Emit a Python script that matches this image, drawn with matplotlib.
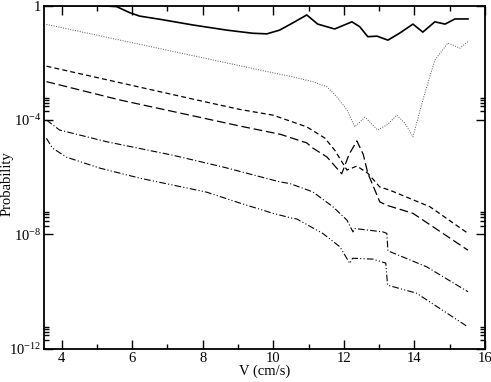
import numpy as np
import matplotlib.pyplot as plt
from matplotlib.ticker import FixedLocator, NullFormatter

plt.rcParams["font.family"] = ["Liberation Serif", "DejaVu Serif"]
plt.rcParams["mathtext.fontset"] = "custom"
plt.rcParams["mathtext.rm"] = "Liberation Serif"
plt.rcParams["mathtext.it"] = "Liberation Serif:italic"

# velocity (cm/s) and log10(probability)
v_solid = [3.6, 4.5, 5.0, 5.56, 5.93, 6.21, 6.78, 7.72, 8.68, 9.42, 9.82, 10.18,
           10.55, 10.95, 11.26, 11.74, 12.23, 12.45, 12.68, 12.94, 13.25, 13.59,
           13.96, 14.24, 14.58, 14.87, 15.15, 15.52]
p_solid = [0.0, 0.0, 0.0, -0.04, -0.25, -0.37, -0.48, -0.68, -0.86, -0.97, -0.99, -0.86,
           -0.61, -0.33, -0.65, -0.82, -0.57, -0.74, -1.09, -1.07, -1.21, -0.96,
           -0.65, -0.93, -0.57, -0.65, -0.47, -0.47]

v_dot = [3.57, 10.18, 10.47, 11.12, 11.52, 11.80, 12.09, 12.31, 12.60, 12.96, 13.25,
         13.50, 13.73, 13.96, 14.24, 14.58, 14.95, 15.29, 15.55]
p_dot = [-0.66, -2.40, -2.47, -2.66, -2.84, -3.19, -3.65, -4.24, -3.90, -4.35, -4.15,
         -3.83, -4.11, -4.59, -3.30, -1.91, -1.31, -1.49, -1.23]

v_dash = [3.57, 7.83, 9.05, 9.99, 10.95, 11.46, 11.74, 12.09, 12.37, 12.68, 13.02,
          13.30, 14.44, 15.52]
p_dash = [-2.12, -3.30, -3.63, -3.83, -4.24, -4.63, -5.05, -5.75, -5.61, -5.86, -6.34,
          -6.45, -7.03, -7.96]

v_ldash = [3.57, 5.65, 9.05, 10.2, 10.95, 11.12, 11.52, 11.94, 12.15, 12.37, 12.55,
           12.68, 13.02, 13.22, 13.96, 15.52]
p_ldash = [-2.66, -3.30, -4.21, -4.50, -4.80, -4.98, -5.29, -5.88, -5.2, -4.73, -5.2,
           -5.86, -6.86, -6.98, -7.26, -8.55]

v_dd = [3.57, 3.94, 5.28, 7.15, 8.57, 10.18, 10.47, 11.12, 11.69, 12.09, 12.26, 12.31,
        13.11, 13.22, 13.25, 14.35, 15.52]
p_dd = [-4.0, -4.35, -4.76, -5.23, -5.64, -6.16, -6.22, -6.51, -7.03, -7.50, -7.91,
        -7.79, -7.91, -7.96, -8.57, -9.13, -10.0]

v_ddd = [3.57, 3.74, 4.14, 5.08, 6.21, 8.11, 9.05, 9.99, 10.5, 10.67, 11.40, 11.89,
         12.17, 12.25, 12.82, 13.19, 13.24, 14.06, 15.52]
p_ddd = [-4.64, -4.98, -5.30, -5.68, -6.03, -6.52, -6.90, -7.26, -7.42, -7.46, -7.96,
         -8.43, -9.01, -8.83, -8.86, -9.0, -9.77, -10.05, -11.23]

fig = plt.figure(figsize=(4.91, 3.82), dpi=100)
ax = fig.add_axes([0.0896, 0.0864, 0.898, 0.8992])

ax.plot(v_solid, 10 ** np.array(p_solid), color="black", lw=1.2)
ax.plot(v_dot, 10 ** np.array(p_dot), color="#555555", lw=0.7, dashes=(1, 1.5))
ax.plot(v_dash, 10 ** np.array(p_dash), color="black", lw=0.9, dashes=(4, 2.5))
ax.plot(v_ldash, 10 ** np.array(p_ldash), color="black", lw=0.9, dashes=(7, 3))
ax.plot(v_dd, 10 ** np.array(p_dd), color="black", lw=0.8, dashes=(6, 2, 1, 2))
ax.plot(v_ddd, 10 ** np.array(p_ddd), color="black", lw=0.8, dashes=(6, 2, 1, 2, 1, 2))

ax.set_yscale("log")
ax.set_xlim(3.5, 16)
ax.set_ylim(1e-12, 1)

ax.xaxis.set_major_locator(FixedLocator([4, 6, 8, 10, 12, 14, 16]))
ax.xaxis.set_minor_locator(FixedLocator([5, 7, 9, 11, 13, 15]))
ax.yaxis.set_major_locator(FixedLocator([1e-12, 1e-8, 1e-4, 1]))
ax.set_yticklabels(["10$^{\\mathrm{-12}}$", "10$^{\\mathrm{-8}}$",
                    "10$^{\\mathrm{-4}}$", "1"])
ax.yaxis.set_minor_locator(FixedLocator([m * 10.0 ** e for e in (-12, -8, -4)
                                         for m in (2, 3, 4, 5, 6)]))
ax.yaxis.set_minor_formatter(NullFormatter())

ax.tick_params(which="both", direction="in", top=True, right=True, labelsize=10.5)
ax.tick_params(which="major", length=6.5, width=1, pad=2)
ax.tick_params(which="minor", length=3.5, width=1)
for s in ax.spines.values():
    s.set_linewidth(1.3)

ax.set_xlabel("V (cm/s)", fontsize=10.5, labelpad=0)
fig.text(0.002, 0.52, "Probability", fontsize=10.5, rotation=90,
         ha="left", va="center")

fig.savefig("out.png", dpi=100)
